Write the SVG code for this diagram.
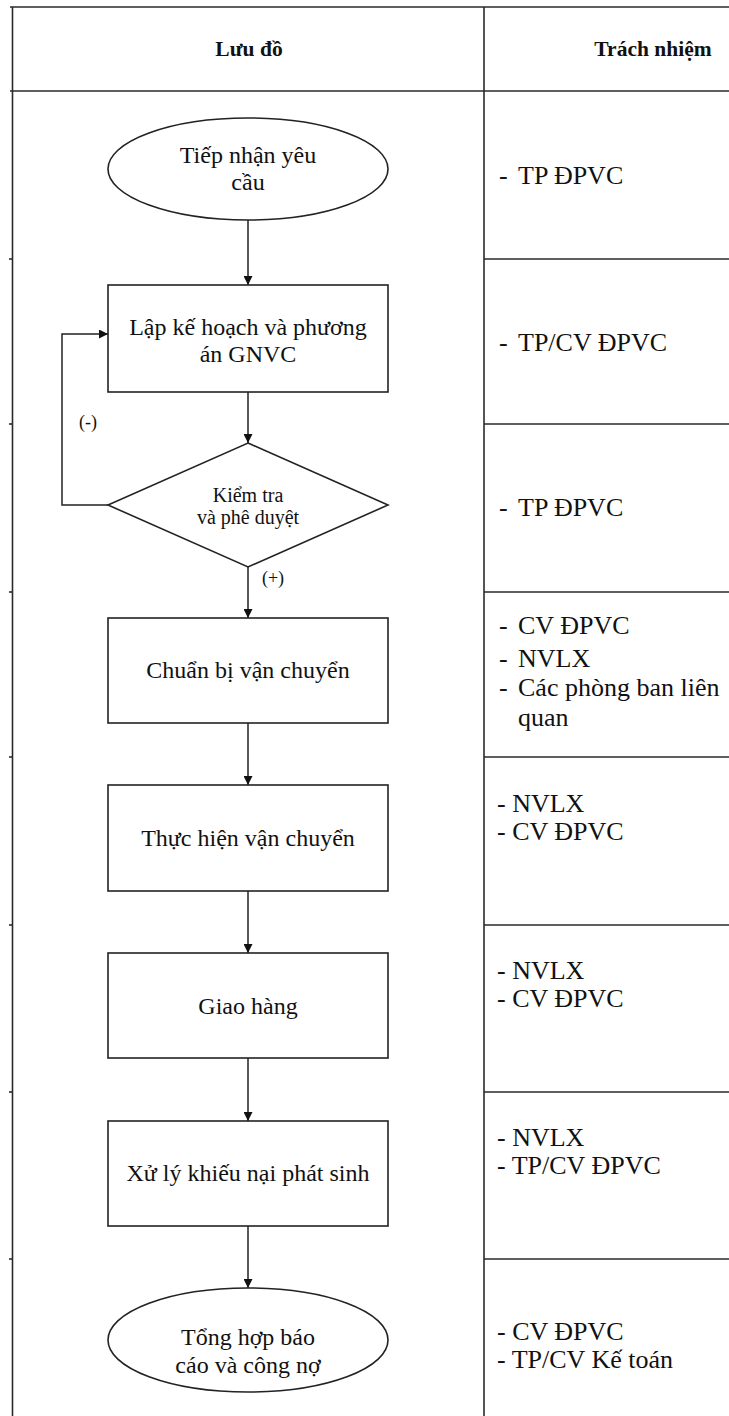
<svg xmlns="http://www.w3.org/2000/svg" width="729" height="1416" viewBox="0 0 729 1416">
<style>
.grid{stroke:#2a2a2a;stroke-width:1.6;fill:none}
.shape{stroke:#222;stroke-width:1.6;fill:#fff}
.conn{stroke:#222;stroke-width:1.5;fill:none}
.hd{font-family:"Liberation Serif",serif;font-weight:bold;font-size:21.5px;fill:#111}
.t{font-family:"Liberation Serif",serif;font-size:24px;fill:#111}
.ts{font-family:"Liberation Serif",serif;font-size:20px;fill:#111}
.r{font-family:"Liberation Serif",serif;font-size:26px;fill:#111}
.lb{font-family:"Liberation Serif",serif;font-size:18px;fill:#111}
</style>
<defs>
<marker id="ah" viewBox="0 0 10 10" refX="10" refY="5" markerWidth="10" markerHeight="9" markerUnits="userSpaceOnUse" orient="auto">
<path d="M0,0 L10,5 L0,10 z" fill="#111"/>
</marker>
</defs>
<rect width="729" height="1416" fill="#fff"/>
<g id="table">
<line class="grid" x1="10" y1="7" x2="729" y2="7"/>
<line class="grid" x1="10" y1="91" x2="729" y2="91"/>
<line class="grid" x1="12.5" y1="7" x2="12.5" y2="1416"/>
<line class="grid" x1="484" y1="7" x2="484" y2="1416"/>
<line class="grid" x1="484" y1="259" x2="729" y2="259"/>
<line class="grid" x1="484" y1="424" x2="729" y2="424"/>
<line class="grid" x1="484" y1="592" x2="729" y2="592"/>
<line class="grid" x1="484" y1="757" x2="729" y2="757"/>
<line class="grid" x1="484" y1="925" x2="729" y2="925"/>
<line class="grid" x1="484" y1="1092" x2="729" y2="1092"/>
<line class="grid" x1="484" y1="1259" x2="729" y2="1259"/>
<g class="grid">
<line x1="9" y1="259" x2="12" y2="259"/>
<line x1="9" y1="424" x2="12" y2="424"/>
<line x1="9" y1="592" x2="12" y2="592"/>
<line x1="9" y1="757" x2="12" y2="757"/>
<line x1="9" y1="925" x2="12" y2="925"/>
<line x1="9" y1="1092" x2="12" y2="1092"/>
<line x1="9" y1="1259" x2="12" y2="1259"/>
</g>
<text class="hd" x="249" y="56" text-anchor="middle">Lưu đồ</text>
<text class="hd" x="653" y="56" text-anchor="middle">Trách nhiệm</text>
</g>
<g id="resp">
<text class="r" x="499" y="184">-</text><text class="r" x="518" y="184">TP ĐPVC</text>
<text class="r" x="499" y="351">-</text><text class="r" x="518" y="351">TP/CV ĐPVC</text>
<text class="r" x="499" y="516">-</text><text class="r" x="518" y="516">TP ĐPVC</text>
<text class="r" x="499" y="634">-</text><text class="r" x="518" y="634">CV ĐPVC</text>
<text class="r" x="499" y="667">-</text><text class="r" x="518" y="667">NVLX</text>
<text class="r" x="499" y="696">-</text><text class="r" x="518" y="696">Các phòng ban liên</text>
<text class="r" x="518" y="726">quan</text>
<text class="r" x="497" y="812">- NVLX</text>
<text class="r" x="497" y="840">- CV ĐPVC</text>
<text class="r" x="497" y="979">- NVLX</text>
<text class="r" x="497" y="1007">- CV ĐPVC</text>
<text class="r" x="497" y="1146">- NVLX</text>
<text class="r" x="497" y="1174">- TP/CV ĐPVC</text>
<text class="r" x="497" y="1340">- CV ĐPVC</text>
<text class="r" x="497" y="1368">- TP/CV Kế toán</text>
</g>
<g id="connectors">
<line class="conn" x1="248" y1="220" x2="248" y2="285" marker-end="url(#ah)"/>
<line class="conn" x1="248" y1="392" x2="248" y2="443" marker-end="url(#ah)"/>
<polyline class="conn" points="108,505 62,505 62,334 108,334" marker-end="url(#ah)"/>
<line class="conn" x1="248" y1="567" x2="248" y2="618" marker-end="url(#ah)"/>
<line class="conn" x1="248" y1="723" x2="248" y2="785" marker-end="url(#ah)"/>
<line class="conn" x1="248" y1="891" x2="248" y2="953" marker-end="url(#ah)"/>
<line class="conn" x1="248" y1="1058" x2="248" y2="1121" marker-end="url(#ah)"/>
<line class="conn" x1="248" y1="1226" x2="248" y2="1288" marker-end="url(#ah)"/>
<text class="lb" x="88" y="428" text-anchor="middle">(-)</text>
<text class="lb" x="273" y="584" text-anchor="middle">(+)</text>
</g>
<g id="n1">
<ellipse class="shape" cx="248" cy="169" rx="140" ry="51"/>
<text class="t" x="248" y="163" text-anchor="middle">Tiếp nhận yêu</text>
<text class="t" x="248" y="190" text-anchor="middle">cầu</text>
</g>
<g id="n2">
<rect class="shape" x="108" y="285" width="280" height="107"/>
<text class="t" x="248" y="335" text-anchor="middle">Lập kế hoạch  và phương</text>
<text class="t" x="248" y="362" text-anchor="middle">án GNVC</text>
</g>
<g id="n3">
<polygon class="shape" points="248,443 388,505 248,567 108,505"/>
<text class="ts" x="248" y="502" text-anchor="middle">Kiểm tra</text>
<text class="ts" x="248" y="524" text-anchor="middle">và phê duyệt</text>
</g>
<g id="n4">
<rect class="shape" x="108" y="618" width="280" height="105"/>
<text class="t" x="248" y="678" text-anchor="middle">Chuẩn bị vận chuyển</text>
</g>
<g id="n5">
<rect class="shape" x="108" y="785" width="280" height="106"/>
<text class="t" x="248" y="846" text-anchor="middle">Thực hiện vận chuyển</text>
</g>
<g id="n6">
<rect class="shape" x="108" y="953" width="280" height="105"/>
<text class="t" x="248" y="1014" text-anchor="middle">Giao hàng</text>
</g>
<g id="n7">
<rect class="shape" x="108" y="1121" width="280" height="105"/>
<text class="t" x="248" y="1181" text-anchor="middle">Xử lý khiếu nại phát sinh</text>
</g>
<g id="n8">
<ellipse class="shape" cx="248" cy="1340" rx="140" ry="52"/>
<text class="t" x="248" y="1345" text-anchor="middle">Tổng hợp báo</text>
<text class="t" x="248" y="1373" text-anchor="middle">cáo và công nợ</text>
</g>
</svg>
